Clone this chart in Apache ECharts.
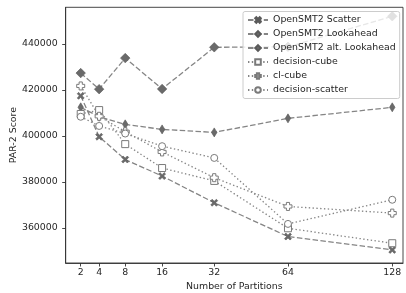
<!DOCTYPE html>
<html>
<head>
<meta charset="utf-8">
<script src="https://cdn.jsdelivr.net/npm/echarts@6/dist/echarts.min.js"></script>
<style>html,body{margin:0;padding:0;background:#fff}#c{width:406px;height:293px}</style>
</head>
<body>
<div id="c"></div>
<script>
const partitions = [2, 4, 8, 16, 32, 64, 128];
const xTickLabels = [2, 4, 8, 16, 32, 64, 128];
const yTickLabels = [360000, 380000, 400000, 420000, 440000];
const seriesNames = ['OpenSMT2 Scatter', 'OpenSMT2 Lookahead', 'OpenSMT2 alt. Lookahead', 'decision-cube', 'cl-cube', 'decision-scatter'];
const scatterVals = [417400, 399600, 389700, 382500, 370900, 356200, 350400];
const lookaheadVals = [412400, 408300, 405000, 402800, 401500, 407600, 412400];
const altLookaheadVals = [427300, 420300, 433800, 420400, 438500, 438700, 452000];
const decisionCubeVals = [409500, 411200, 396400, 386000, 380400, 359800, 353300];
const clCubeVals = [421700, 408500, 401800, 393000, 381800, 369300, 366400];
const decisionScatterVals = [408300, 404300, 401000, 395500, 390400, 361700, 372200];

const FONT = 'DejaVu Sans';
const TXT = '#262626';
const sq = v => Math.sqrt(v);
const pts = vals => partitions.map((p, i) => [sq(p), vals[i]]);

const X_PATH = 'path://M0,2 L2,0 L5,3 L8,0 L10,2 L7,5 L10,8 L8,10 L5,7 L2,10 L0,8 L3,5 Z';
const P_PATH = 'path://M3,0 L7,0 L7,3 L10,3 L10,7 L7,7 L7,10 L3,10 L3,7 L0,7 L0,3 L3,3 Z';

const dashed = [5.5, 2.4];
const dotted = [1.4, 2.4];

function mk(name, vals, symbol, size, filled, dash) {
  return {
    name: name, type: 'line', data: pts(vals),
    symbol: symbol, symbolSize: size, showSymbol: true,
    lineStyle: { color: '#858585', width: 1.3, type: dash },
    itemStyle: filled ? { color: '#6a6a6a', borderColor: '#5a5a5a', borderWidth: 0.6 }
                      : { color: '#ffffff', borderColor: '#7a7a7a', borderWidth: 1 },
    emphasis: { disabled: true },
    animation: false
  };
}

const chart = echarts.init(document.getElementById('c'));
chart.setOption({
  animation: false,
  grid: { left: 65.7, right: 3, top: 7.3, bottom: 30, containLabel: false, outerBoundsMode: 'none', show: true, borderColor: '#333', borderWidth: 0.9, backgroundColor: 'transparent' },
  legend: {
    orient: 'vertical', left: 243, top: 11.5,
    padding: [3, 4, 3, 4], itemGap: 3, itemHeight: 7, itemWidth: 20,
    backgroundColor: 'rgba(255,255,255,0.8)', borderColor: '#cccccc', borderWidth: 1, borderRadius: 2,
    textStyle: { fontFamily: FONT, fontSize: 9.4, color: TXT, lineHeight: 11 },
    data: seriesNames
  },
  xAxis: {
    type: 'value', min: 0.937, max: 11.655,
    name: 'Number of Partitions', nameLocation: 'middle', nameGap: 19.5, nameMoveOverlap: false,
    nameTextStyle: { fontFamily: FONT, fontSize: 9.4, color: TXT },
    axisLine: { show: true, lineStyle: { color: '#333', width: 0.9 } },
    axisTick: { show: true, inside: false, length: 3.5, lineStyle: { color: '#333', width: 0.9 }, customValues: xTickLabels.map(sq) },
    axisLabel: { fontFamily: FONT, fontSize: 9.4, color: TXT, margin: 5.5, customValues: xTickLabels.map(sq), formatter: v => String(Math.round(v * v)) },
    splitLine: { show: false }
  },
  yAxis: {
    type: 'value', min: 344700, max: 455900,
    name: 'PAR-2 Score', nameLocation: 'middle', nameGap: 48, nameRotate: 90, nameMoveOverlap: false,
    nameTextStyle: { fontFamily: FONT, fontSize: 9.4, color: TXT },
    axisLine: { show: true, lineStyle: { color: '#333', width: 0.9 } },
    axisTick: { show: true, inside: false, length: 3.5, lineStyle: { color: '#333', width: 0.9 }, customValues: yTickLabels },
    axisLabel: { fontFamily: FONT, fontSize: 9.4, color: TXT, margin: 8, customValues: yTickLabels, formatter: v => String(v) },
    splitLine: { show: false }
  },
  series: [
    mk(seriesNames[0], scatterVals, X_PATH, 7, true, dashed),
    mk(seriesNames[1], lookaheadVals, 'diamond', [5.5, 9], true, dashed),
    mk(seriesNames[2], altLookaheadVals, 'diamond', 9.5, true, dashed),
    mk(seriesNames[3], decisionCubeVals, 'rect', 7, false, dotted),
    mk(seriesNames[4], clCubeVals, P_PATH, 8, false, dotted),
    mk(seriesNames[5], decisionScatterVals, 'circle', 7, false, dotted)
  ]
});
</script>
</body>
</html>
